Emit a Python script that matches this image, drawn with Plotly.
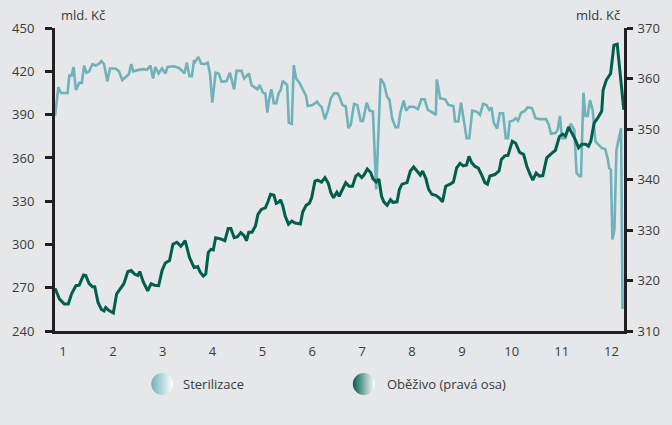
import plotly.graph_objects as go

# ---------------- data (x in months, values in mld. Kč) ----------------
steril_x = [0.841, 0.907, 0.960, 1.093, 1.126, 1.173, 1.213, 1.259, 1.325, 1.378, 1.424, 1.472, 1.524,
            1.591, 1.657, 1.711, 1.771, 1.823, 1.890, 1.942, 2.056, 2.122, 2.189, 2.255, 2.321, 2.369,
            2.408, 2.520, 2.620, 2.687, 2.753, 2.806, 2.853, 2.918, 2.986, 3.052, 3.098, 3.217, 3.317,
            3.384, 3.436, 3.484, 3.536, 3.584, 3.629, 3.653, 3.715, 3.769, 3.849, 3.902, 3.948, 3.994,
            4.061, 4.127, 4.181, 4.281, 4.347, 4.393, 4.433, 4.480, 4.580, 4.632, 4.679, 4.731, 4.779,
            4.831, 4.898, 4.944, 5.010, 5.058, 5.098, 5.124, 5.177, 5.229, 5.277, 5.323, 5.363, 5.408,
            5.456, 5.496, 5.528, 5.588, 5.628, 5.675, 5.741, 5.807, 5.875, 5.906, 6.006, 6.094, 6.139,
            6.185, 6.253, 6.319, 6.372, 6.438, 6.504, 6.538, 6.604, 6.671, 6.723, 6.771, 6.837, 6.902,
            6.970, 7.016, 7.090, 7.149, 7.215, 7.281, 7.368, 7.434, 7.500, 7.548, 7.600, 7.667, 7.719,
            7.767, 7.833, 7.879, 7.946, 8.032, 8.118, 8.185, 8.251, 8.317, 8.384, 8.476, 8.496, 8.564,
            8.663, 8.729, 8.829, 8.862, 8.928, 8.982, 9.028, 9.094, 9.148, 9.207, 9.293, 9.361, 9.426,
            9.492, 9.546, 9.592, 9.640, 9.705, 9.759, 9.825, 9.879, 9.924, 9.958, 10.024, 10.078,
            10.124, 10.189, 10.257, 10.323, 10.408, 10.476, 10.556, 10.687, 10.741, 10.787, 10.875,
            10.920, 10.966, 11.006, 11.074, 11.120, 11.185, 11.253, 11.299, 11.355, 11.388, 11.436,
            11.476, 11.522, 11.568, 11.622, 11.676, 11.741, 11.807, 11.873, 11.920, 11.954, 11.986,
            12.018, 12.058, 12.098, 12.151, 12.191, 12.221]
steril_y = [389, 409, 405, 405, 417, 417, 423, 407, 412, 412, 424, 419, 420,
            425, 424, 425, 427, 425, 413, 422, 422, 420, 414, 416, 418, 425,
            420, 421, 421.5, 421, 424, 415, 423, 418.5, 422, 418.5, 423, 423.5, 422.5,
            420.6, 418.5, 426, 416.7, 416.7, 427.7, 426.6, 430, 425.4, 425, 426, 418.5, 398.3,
            419, 418.3, 412.8, 413.3, 419, 412.8, 407.5, 420.3, 420.3, 415, 416.7, 418.5, 410.5,
            409.3, 407.5, 410.5, 405.2, 404.7, 391.4, 399, 407.5, 397.9, 397.9, 404.7, 406.9, 413.4,
            411.6, 410.5, 384.5, 383.6, 424.3, 415, 412.1, 407.5, 402.9, 396, 396.7, 399, 396.7,
            395.5, 386.8, 393.8, 401.3, 404.7, 404.7, 403, 396.7, 395.5, 380.6, 383, 397.4, 396.7,
            385.6, 385.6, 398.3, 392.8, 392.1, 338.1, 415, 411.6, 402.4, 400.1, 387.5, 381.3, 381.3,
            391.4, 399.7, 392.8, 395.5, 395.5, 393.8, 400.6, 400.6, 393.3, 392.1, 389.8, 414.4, 401.3,
            400.6, 396.7, 396, 385.2, 385.2, 398.3, 387.5, 373.7, 373.7, 392.8, 392.1, 389.8, 397.5,
            396.7, 393.3, 395.1, 384.1, 380.4, 391, 391, 373.7, 373.7, 385.2, 385.8, 387.5,
            385.8, 391.3, 392.6, 395.1, 394.4, 387.5, 386.9, 386.9, 383, 376.7, 377.2,
            379.5, 389.1, 373.7, 373.7, 378.3, 383.6, 379.5, 349.6, 347.3, 347.3, 405.2,
            389.1, 389.1, 400.1, 393.3, 371.4, 369.1, 366.8, 366.1, 359.9, 353, 351.9,
            303.6, 310.5, 365.7, 374.8, 380.6, 255.3]

obez_x = [0.841, 0.927, 1.026, 1.106, 1.173, 1.259, 1.325, 1.412, 1.458, 1.524, 1.591, 1.637, 1.703,
          1.771, 1.823, 1.857, 1.922, 2.010, 2.076, 2.155, 2.221, 2.301, 2.369, 2.434, 2.500, 2.540,
          2.608, 2.699, 2.767, 2.833, 2.918, 2.986, 3.052, 3.137, 3.205, 3.285, 3.364, 3.450, 3.536,
          3.629, 3.702, 3.749, 3.815, 3.863, 3.914, 3.968, 4.014, 4.061, 4.147, 4.247, 4.313, 4.367,
          4.433, 4.500, 4.566, 4.632, 4.679, 4.725, 4.791, 4.859, 4.910, 4.978, 5.058, 5.110, 5.163,
          5.229, 5.277, 5.323, 5.363, 5.408, 5.456, 5.522, 5.588, 5.655, 5.761, 5.807, 5.875, 5.940,
          5.986, 6.053, 6.106, 6.185, 6.253, 6.319, 6.372, 6.424, 6.492, 6.538, 6.604, 6.671, 6.737,
          6.805, 6.871, 6.924, 6.990, 7.036, 7.102, 7.169, 7.215, 7.281, 7.335, 7.388, 7.434, 7.500,
          7.568, 7.614, 7.699, 7.747, 7.799, 7.899, 7.966, 8.032, 8.098, 8.165, 8.211, 8.277, 8.331,
          8.396, 8.476, 8.544, 8.610, 8.675, 8.763, 8.829, 8.894, 8.962, 9.028, 9.094, 9.141, 9.193,
          9.261, 9.327, 9.392, 9.460, 9.512, 9.560, 9.659, 9.745, 9.791, 9.859, 9.924, 10.010,
          10.078, 10.157, 10.237, 10.303, 10.369, 10.422, 10.488, 10.556, 10.622, 10.701, 10.787,
          10.875, 10.954, 11.020, 11.074, 11.139, 11.205, 11.273, 11.339, 11.405, 11.484, 11.538,
          11.584, 11.651, 11.717, 11.803, 11.831, 11.896, 11.982, 12.048, 12.114, 12.179, 12.246]
obez_y = [318.5, 316.4, 315.4, 315.4, 317.4, 319, 319.1, 321.1, 321, 319.4, 318.8, 318.8, 315.7,
          314.3, 314, 314.7, 314.1, 313.6, 317.4, 318.5, 319.4, 321.8, 322, 321.3, 321, 321.8,
          319.8, 318, 319.4, 319.1, 319, 322, 323.5, 324, 327.2, 327.6, 326.8, 327.9, 324.6,
          322.6, 322.8, 321.7, 320.9, 321.3, 325.6, 326.2, 326.1, 328.5, 328.3, 327.9, 330.3, 330.3,
          328.5, 328.7, 329.5, 328.9, 327.9, 329.6, 329.6, 330.8, 333.1, 334.1, 334.4, 335.6, 337.1,
          336.9, 335.3, 335.5, 336, 334.8, 332.8, 331.2, 331.8, 331.4, 331.2, 333.6, 334.9, 335.3,
          336.4, 339.7, 339.9, 339.5, 340.4, 339.3, 337.4, 336.4, 337.5, 336.7, 338.1, 339.4, 338.7,
          338.7, 340.7, 341.1, 340.4, 340.9, 342.1, 341.4, 340.2, 339.5, 340.1, 336.7, 335.6, 334.9,
          336, 335.5, 335.6, 338.1, 339.1, 339.4, 341.7, 342.5, 341.7, 340.9, 341.7, 340.2, 338.1,
          337.1, 336.9, 336.4, 335.6, 338.7, 339.1, 339.5, 342.3, 343.2, 342.7, 342.9, 344.6, 343.4,
          342.6, 342.3, 341, 339.4, 339.1, 340.7, 341, 341.7, 344, 344.7, 344.8, 347.6,
          347.2, 345.4, 345, 342.6, 341, 339.9, 341.3, 340.7, 340.8, 344.3, 345.1,
          345.8, 348.5, 349, 348.6, 350.4, 349.2, 347.9, 346.3, 347, 347, 346.6,
          347.6, 351.2, 352.1, 353.5, 357.7, 359.7, 361, 366.6, 366.8, 361, 353.8]

month_ticks = list(range(1, 13))
series_names = ["Sterilizace", "Oběživo (pravá osa)"]
unit_label = "mld. Kč"

# ---------------- styling ----------------
BG = "#e6e7e9"
C_STER = "#6fb2ba"
C_OBEZ = "#005e4d"
AX = "#231f20"
TXT = "#3a3a3a"
FONT = "Open Sans"

fig = go.Figure()

fig.add_trace(go.Scatter(x=steril_x, y=steril_y, mode="lines", name=series_names[0],
                         line=dict(color=C_STER, width=2.6), yaxis="y", showlegend=False,
                         hoverinfo="skip"))
fig.add_trace(go.Scatter(x=obez_x, y=obez_y, mode="lines", name=series_names[1],
                         line=dict(color=C_OBEZ, width=3), yaxis="y2", showlegend=False,
                         hoverinfo="skip"))

# legend symbols (gradient discs) on a hidden helper subplot
H_PLOT = 377.0
BOT_FRAC = 73.0 / H_PLOT
fig.add_trace(go.Scatter(x=[162, 365], y=[20, 20], xaxis="x3", yaxis="y3", mode="markers",
                         marker=dict(size=22, color=[C_STER, C_OBEZ], line=dict(width=0),
                                     gradient=dict(type="horizontal", color="#ffffff")),
                         showlegend=False, hoverinfo="skip"))

fig.update_layout(
    width=672, height=425,
    paper_bgcolor=BG, plot_bgcolor=BG,
    margin=dict(l=54, r=45, t=28, b=20),
    font=dict(family=FONT, size=13, color=TXT),
    showlegend=False,
    xaxis=dict(domain=[0, 1], range=[0.84, 12.25], tickvals=month_ticks,
               ticktext=[str(m) for m in month_ticks], ticks="", showgrid=False, zeroline=False,
               showline=True, linecolor=AX, linewidth=2.5, anchor="y",
               tickfont=dict(size=13, color=TXT), ticklabelstandoff=6),
    yaxis=dict(domain=[BOT_FRAC, 1], range=[240, 450], dtick=30, tick0=240, showgrid=False,
               zeroline=False, showline=True, linecolor=AX, linewidth=3, ticks="outside",
               ticklen=7, tickwidth=3, tickcolor=AX, anchor="x",
               tickfont=dict(size=13, color=TXT), ticklabelstandoff=8),
    yaxis2=dict(domain=[BOT_FRAC, 1], range=[310, 370], dtick=10, tick0=310, overlaying="y",
                side="right", showgrid=False, zeroline=False, showline=True, linecolor=AX,
                linewidth=3, ticks="outside", ticklen=6, tickwidth=3, tickcolor=AX, anchor="x",
                tickfont=dict(size=13, color=TXT), ticklabelstandoff=2),
    xaxis3=dict(domain=[0, 1], range=[54, 627], visible=False, anchor="y3", fixedrange=True),
    yaxis3=dict(domain=[0, BOT_FRAC], range=[0, 73], visible=False, anchor="x3", fixedrange=True),
)

fig.add_annotation(text=unit_label, xref="paper", yref="paper", x=(58 - 54) / 573.0,
                   y=1 + 13 / H_PLOT, xanchor="left", yanchor="middle", showarrow=False,
                   font=dict(size=13, color=TXT))
fig.add_annotation(text=unit_label, xref="paper", yref="paper", x=(625 - 54) / 573.0,
                   y=1 + 13 / H_PLOT, xanchor="right", yanchor="middle", showarrow=False,
                   font=dict(size=13, color=TXT))
fig.add_annotation(text=series_names[0], xref="paper", yref="paper", x=(181 - 54) / 573.0,
                   y=20 / H_PLOT, xanchor="left", yanchor="middle", showarrow=False,
                   font=dict(size=13, color=TXT))
fig.add_annotation(text=series_names[1], xref="paper", yref="paper", x=(386 - 54) / 573.0,
                   y=20 / H_PLOT, xanchor="left", yanchor="middle", showarrow=False,
                   font=dict(size=13, color=TXT))

fig.write_html("out.html", config={"displayModeBar": False},
               post_script="document.body.style.margin='0';document.body.style.background='" + BG + "';")
